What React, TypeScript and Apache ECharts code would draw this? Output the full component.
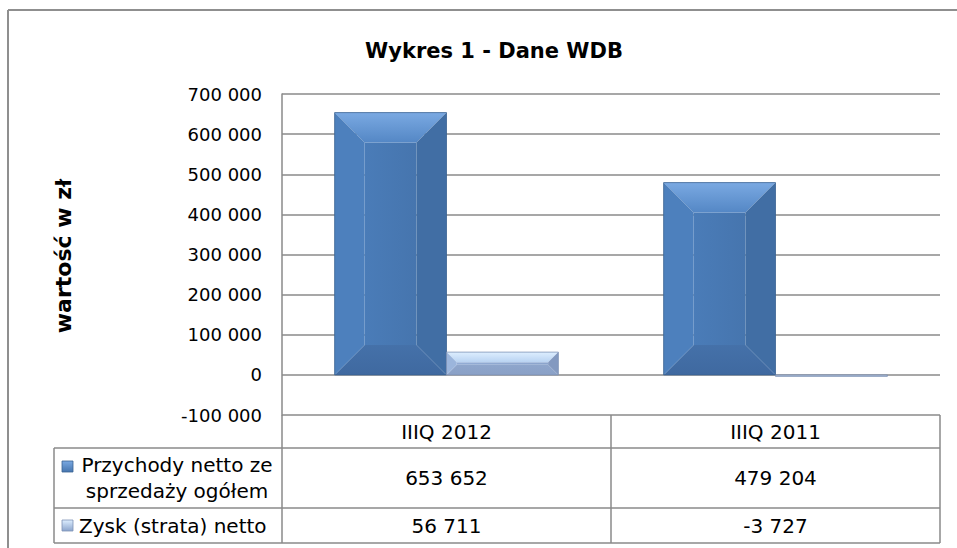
import React, { useEffect, useRef } from 'react';
import * as echarts from 'echarts';

// ---- data ----
const categories = ['IIIQ 2012', 'IIIQ 2011'];
const seriesNames = ['Przychody netto ze\nsprzedaży ogółem', 'Zysk (strata) netto'];
const revenue = [653652, 479204];
const profit = [56711, -3727];
const yMin = -100000;
const yMax = 700000;
const yStep = 100000;
const chartTitle = 'Wykres 1 - Dane WDB';
const axisTitle = 'wartość w zł';

// ---- layout ----
const W = 957;
const H = 548;
const gridL = 282;
const gridR = 940;
const gridT = 94;
const gridB = 415;
const tableL = 54;
const rowY = [415, 448, 508, 543];
const FONT = 'DejaVu Sans';
const LINE = '#8a8a8a';

const fmt = (v: number) => {
  const s = Math.abs(Math.round(v)).toString().replace(/\B(?=(\d{3})+(?!\d))/g, ' ');
  return (v < 0 ? '-' : '') + s;
};

const palettes = [
  {
    top: ['#7aa9e2', '#5487c5'],
    left: '#4d80bd',
    center: ['#4a7cb8', '#4675ae'],
    right: '#416ea4',
    bottom: ['#4571a9', '#3f69a0'],
    stroke: '#3a6292',
  },
  {
    top: ['#ddeeff', '#b8d2f1'],
    left: '#9bb5dc',
    center: ['#92acd5', '#8ba4cc'],
    right: '#8399c0',
    bottom: ['#8ea6cc', '#8aa0c6'],
    stroke: '#7d92b5',
  },
];

const vg = (c: string[]) => new echarts.graphic.LinearGradient(0, 0, 0, 1, [
  { offset: 0, color: c[0] },
  { offset: 1, color: c[1] },
]);
const hg = (c: string[]) => new echarts.graphic.LinearGradient(0, 0, 1, 0, [
  { offset: 0, color: c[0] },
  { offset: 1, color: c[1] },
]);

const makeRender = (side: number) => (params: any, api: any) => {
  const p = palettes[side];
  const cat = api.value(0);
  const val = api.value(1);
  const base = api.coord([cat, 0]);
  const tip = api.coord([cat, val]);
  const band = api.size([1, 0])[0];
  const bw = band * 0.34;
  const x0 = side === 0 ? base[0] - bw : base[0];
  const x1 = x0 + bw;
  const yT = Math.min(base[1], tip[1]);
  const yB = Math.max(base[1], tip[1]);
  const h = yB - yT;
  const b = Math.min(30, h * 0.45, bw * 0.3);
  return {
    type: 'group',
    children: [
      { type: 'rect', shape: { x: x0 + b, y: yT + b, width: bw - 2 * b, height: Math.max(0, h - 2 * b) }, style: { fill: hg(p.center) } },
      { type: 'polygon', shape: { points: [[x0, yT], [x1, yT], [x1 - b, yT + b], [x0 + b, yT + b]] }, style: { fill: vg(p.top) } },
      { type: 'polygon', shape: { points: [[x0, yB], [x1, yB], [x1 - b, yB - b], [x0 + b, yB - b]] }, style: { fill: vg(p.bottom) } },
      { type: 'polygon', shape: { points: [[x0, yT], [x0 + b, yT + b], [x0 + b, yB - b], [x0, yB]] }, style: { fill: p.left } },
      { type: 'polygon', shape: { points: [[x1, yT], [x1 - b, yT + b], [x1 - b, yB - b], [x1, yB]] }, style: { fill: p.right } },
      { type: 'rect', shape: { x: x0, y: yT, width: bw, height: h }, style: { fill: 'none', stroke: p.stroke, lineWidth: 0.8 } },
    ],
  };
};

const line = (x1: number, y1: number, x2: number, y2: number, color = LINE, width = 1.5) => ({
  type: 'line',
  z: 20,
  shape: { x1, y1, x2, y2 },
  style: { stroke: color, lineWidth: width },
});

const text = (t: string, x: number, y: number, opts: any = {}) => ({
  type: 'text',
  z: 20,
  x,
  y,
  style: {
    text: t,
    fill: '#000',
    fontFamily: FONT,
    fontSize: 20,
    textAlign: 'center',
    textVerticalAlign: 'middle',
    ...opts,
  },
});

const icon = (side: number, x: number, y: number) => {
  const p = palettes[side];
  return {
    type: 'rect',
    z: 20,
    shape: { x, y, width: 11, height: 11 },
    style: { fill: vg([p.top[0], p.center[1]]), stroke: p.stroke, lineWidth: 0.8 },
  };
};

export default function App() {
  const ref = useRef<HTMLDivElement>(null);
  useEffect(() => {
    if (!ref.current) return;
    const chart = echarts.init(ref.current, null, { renderer: 'svg', width: W, height: H });
    const colMid = (gridL + gridR) / 2;
    const colCenters = [(gridL + colMid) / 2, (colMid + gridR) / 2];
    const rowMid = (i: number) => (rowY[i] + rowY[i + 1]) / 2;
    const graphic: any[] = [
      // outer border
      line(8, 10, 8, H, '#8f8f8f', 2),
      line(8, 10, W, 10, '#8f8f8f', 2),
      // axis title
      {
        type: 'text',
        z: 20,
        x: 63,
        y: 256,
        rotation: Math.PI / 2,
        style: {
          text: axisTitle,
          fill: '#000',
          fontFamily: FONT,
          fontSize: 22,
          fontWeight: 'bold',
          textAlign: 'center',
          textVerticalAlign: 'middle',
        },
      },
      // table lines
      line(gridL, rowY[0], gridL, rowY[3]),
      line(colMid, rowY[0], colMid, rowY[3]),
      line(gridR, rowY[0], gridR, rowY[3]),
      line(tableL, rowY[1], tableL, rowY[3]),
      line(tableL, rowY[1], gridR, rowY[1]),
      line(tableL, rowY[2], gridR, rowY[2]),
      line(tableL, rowY[3], gridR, rowY[3]),
      // header
      ...categories.map((c, i) => text(c, colCenters[i], rowMid(0))),
      // row labels
      icon(0, 62, 461),
      text(seriesNames[0], 177, rowMid(1), { lineHeight: 26 }),
      icon(1, 62, 520),
      text(seriesNames[1], 79, rowMid(2), { textAlign: 'left' }),
      // values
      ...revenue.map((v, i) => text(fmt(v), colCenters[i], rowMid(1))),
      ...profit.map((v, i) => text(fmt(v), colCenters[i], rowMid(2))),
    ];

    chart.setOption({
      animation: false,
      backgroundColor: '#ffffff',
      title: {
        text: chartTitle,
        left: 489,
        top: 35,
        textAlign: 'center',
        textStyle: { fontFamily: FONT, fontWeight: 'bold', fontSize: 21, color: '#000' },
      },
      grid: { left: gridL, top: gridT, width: gridR - gridL, height: gridB - gridT },
      xAxis: {
        type: 'category',
        data: categories,
        axisLine: { show: false },
        axisTick: { show: false },
        axisLabel: { show: false },
        splitLine: { show: false },
      },
      yAxis: {
        type: 'value',
        min: yMin,
        max: yMax,
        interval: yStep,
        axisLine: { show: true, lineStyle: { color: LINE, width: 1.5 } },
        axisTick: { show: false },
        axisLabel: {
          margin: 20,
          formatter: (v: number) => fmt(v),
          fontFamily: FONT,
          fontSize: 18,
          color: '#000',
        },
        splitLine: { show: true, lineStyle: { color: LINE, width: 1.5 } },
      },
      series: [
        {
          type: 'custom',
          name: seriesNames[0],
          renderItem: makeRender(0),
          data: revenue.map((v, i) => [i, v]),
          z: 5,
        },
        {
          type: 'custom',
          name: seriesNames[1],
          renderItem: makeRender(1),
          data: profit.map((v, i) => [i, v]),
          z: 5,
        },
      ],
      graphic,
    });
    return () => chart.dispose();
  }, []);
  return (
    <div
      ref={ref}
      style={{ position: 'fixed', left: 0, top: 0, width: W, height: H, background: '#fff' }}
    />
  );
}
